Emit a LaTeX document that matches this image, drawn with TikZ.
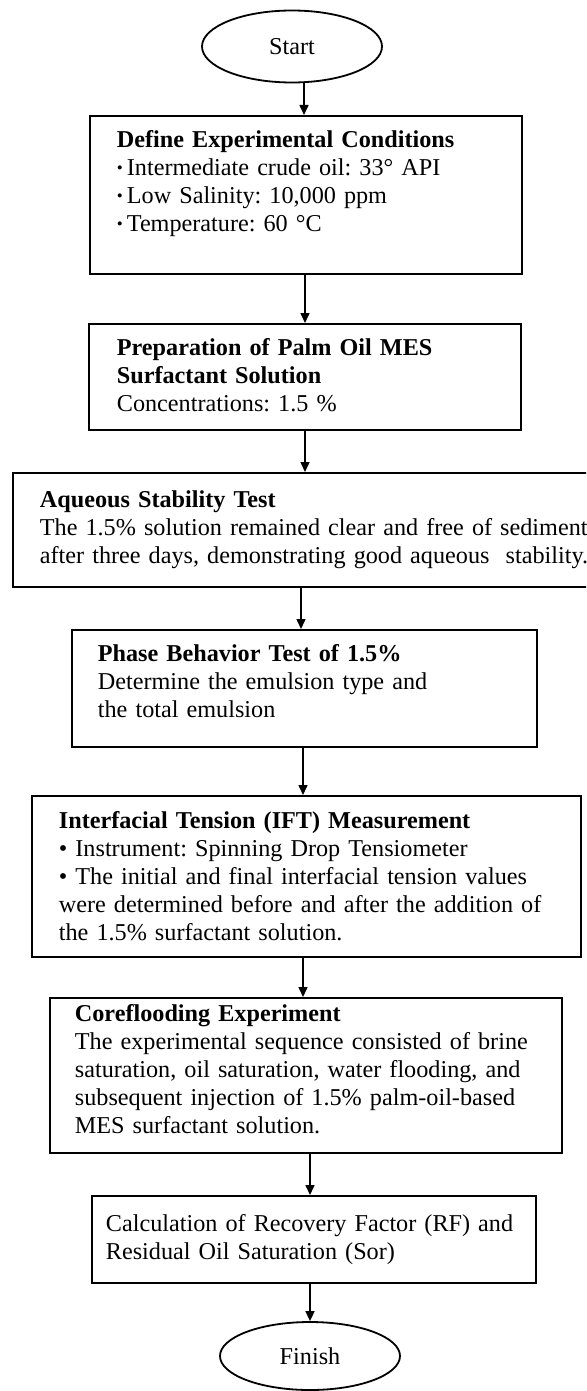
\documentclass[tikz,border=0pt]{standalone}
\usepackage{fontspec}
\setmainfont{Liberation Serif}
\usepackage{tikz}
\usetikzlibrary{shapes.geometric}
\usetikzlibrary{arrows.meta}

\newcommand{\stepfont}{\fontsize{12.1pt}{14pt}\selectfont\frenchspacing}
\newcommand{\dotitem}{{\fontsize{8.5pt}{8.5pt}\selectfont\raisebox{0.12em}{•}}\,}

\begin{document}
\begin{tikzpicture}[
      , x=0.5pt, y=-0.5pt
      , terminal/.style={ellipse, draw, line width=0.9pt, inner sep=0pt, minimum width=90pt, minimum height=36pt, font=\stepfont}
      , stepbox/.style={rectangle, draw, line width=0.9pt, anchor=north west, align=left, inner ysep=0pt, font=\stepfont}
      , flow/.style={->, line width=0.75pt}
      ]

      \tikzset{>={Triangle[length=5pt, width=4.5pt]}}

      \useasboundingbox (0,0) rectangle (586,1391);
      \clip (0,0) rectangle (586,1391);

      \node[terminal] (start) at (292,46.5) {Start};

      \node[stepbox, minimum width=216pt, minimum height=79pt, inner xsep=13.5pt, text width=189pt] (conditions) at (89,115)
        {\textbf{Define Experimental Conditions}\\
         \dotitem Intermediate crude oil: 33° API\\
         \dotitem Low Salinity: 10,000 ppm\\
         \dotitem Temperature: 60 °C\\
         \mbox{}};

      \node[stepbox, minimum width=216pt, minimum height=53pt, inner xsep=14pt, text width=188pt] (mes-prep) at (88,323)
        {\textbf{Preparation of Palm Oil MES}\\
         \textbf{Surfactant Solution}\\
         Concentrations: 1.5 \%\\[-12pt]
         \mbox{}};

      \node[stepbox, minimum width=314pt, minimum height=57pt, inner xsep=13.5pt, text width=287pt] (stability) at (12,472)
        {\textbf{Aqueous Stability Test}\\
         The 1.5\% solution remained clear and free of sediment\\
         after three days, demonstrating good aqueous\ \ stability.};

      \node[stepbox, minimum width=232.5pt, minimum height=58.5pt, inner xsep=13pt, text width=206.5pt] (phase-test) at (71,629)
        {\textbf{Phase Behavior Test of 1.5\%}\\
         Determine the emulsion type and\\
         the total emulsion\\[-7pt]
         \mbox{}};

      \node[stepbox, minimum width=274.5pt, minimum height=80.5pt, inner xsep=13.5pt, text width=247.5pt] (ift-meas) at (31,795)
        {\textbf{Interfacial Tension (IFT) Measurement}\\
         • Instrument: Spinning Drop Tensiometer\\
         • The initial and final interfacial tension values\\
         were determined before and after the addition of\\
         the 1.5\% surfactant solution.};

      \node[stepbox, minimum width=256pt, minimum height=77.5pt, inner xsep=12.5pt, text width=231pt] (coreflood) at (49,997)
        {\textbf{Coreflooding Experiment}\\
         The experimental sequence consisted of brine\\
         saturation, oil saturation, water flooding, and\\
         subsequent injection of 1.5\% palm-oil-based\\
         MES surfactant solution.\\[-8pt]
         \mbox{}};

      \node[stepbox, minimum width=222pt, minimum height=43.5pt, inner xsep=7pt, text width=208pt] (recovery) at (91,1195)
        {Calculation of Recovery Factor (RF) and\\
         Residual Oil Saturation (Sor)};

      \node[terminal, minimum height=34pt] (finish) at (310,1356) {Finish};

      \draw[flow] (start.south -| 304,0) -- (conditions.north -| 304,0);
      \draw[flow] (conditions.south -| 305,0) -- (mes-prep.north -| 305,0);
      \draw[flow] (mes-prep.south -| 305,0) -- (stability.north -| 305,0);
      \draw[flow] (stability.south -| 301,0) -- (phase-test.north -| 301,0);
      \draw[flow] (phase-test.south -| 303,0) -- (ift-meas.north -| 303,0);
      \draw[flow] (ift-meas.south -| 303,0) -- (coreflood.north -| 303,0);
      \draw[flow] (coreflood.south -| 310,0) -- (recovery.north -| 310,0);
      \draw[flow] (recovery.south -| 310,0) -- (finish.north);
    \end{tikzpicture}
\end{document}
